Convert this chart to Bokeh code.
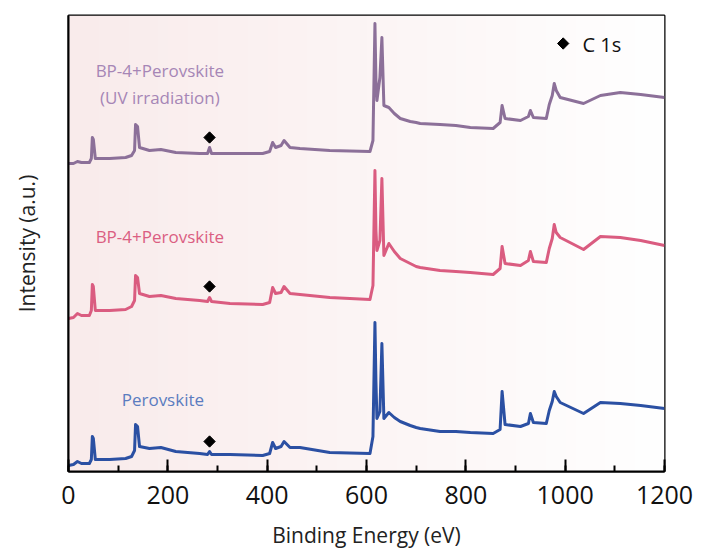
import numpy as np
from bokeh.plotting import figure
from bokeh.models import SingleIntervalTicker, FixedTicker, Label, Range1d
from bokeh.embed import file_html
from bokeh.resources import INLINE

# Binding energy (eV) sample positions shared by all three spectra
energy = [0, 10, 18, 26, 42, 46, 48, 50, 54, 83, 115, 127, 133, 135, 139, 143,
          163, 186, 216, 264, 280, 284, 288, 325, 391, 405, 411, 417, 428, 434,
          446, 466, 526, 607, 613, 617, 619, 621, 627, 631, 635, 645, 656, 668, 688,
          700, 708, 748, 780, 809, 855, 869, 873, 879, 910, 926, 930, 936, 962, 968, 974,
          978, 982, 990, 1037, 1071, 1111, 1152, 1200]

perovskite = [6, 7, 10, 8, 8, 12, 35, 33, 12, 12, 13, 15, 21, 47, 45, 25,
              23, 24, 20, 18, 17, 20, 17, 17, 16, 18, 29, 23, 25, 30,
              24, 24, 19, 18, 35, 149, 90, 53, 60, 128, 53, 59, 54, 50, 46,
              44, 43, 40, 40, 39, 38, 42, 80, 47, 45, 48, 58, 49, 48, 61, 70,
              80, 75, 69, 58, 69, 68, 66, 63]

bp4_perovskite = [153, 154, 158, 156, 156, 161, 187, 185, 161, 161, 162, 165, 171, 196, 194, 178,
                  175, 176, 173, 171, 170, 174, 170, 168, 167, 169, 184, 178, 179, 185,
                  178, 177, 174, 172, 186, 301, 241, 221, 231, 293, 216, 228, 220, 213, 208,
                  205, 204, 201, 200, 199, 197, 203, 225, 208, 206, 211, 220, 210, 209, 223, 233,
                  247, 239, 234, 222, 235, 234, 231, 226]

bp4_uv = [308, 308, 310, 309, 309, 313, 334, 332, 313, 313, 314, 316, 321, 347, 345, 324,
          321, 322, 319, 318, 318, 324, 318, 318, 318, 320, 329, 324, 326, 331,
          324, 323, 321, 320, 331, 448, 391, 371, 394, 434, 366, 364, 358, 353, 350,
          349, 348, 347, 346, 344, 343, 349, 366, 353, 351, 355, 361, 354, 353, 367, 376,
          388, 381, 374, 368, 376, 379, 377, 374]

# C 1s marker positions
c1s_energy = [284, 284, 284]
c1s_intensity = [30, 185, 334]

x_ticks_interval = 200

p = figure(width=702, height=554, output_backend="svg", toolbar_location=None,
           x_range=Range1d(0, 1200), y_range=Range1d(0, 456),
           min_border_left=68, min_border_right=38, min_border_top=15, min_border_bottom=83)
p.background_fill_color = "white"
p.border_fill_color = "white"
p.grid.visible = False
p.outline_line_color = "black"
p.outline_line_width = 2

# pale pink gradient background
n = 300
t = np.linspace(0, 1, n)
r = (249 + (255 - 249) * t).astype(np.uint32)
g = (235 + (255 - 235) * t).astype(np.uint32)
b = (235 + (255 - 235) * t).astype(np.uint32)
a = np.full(n, 255, dtype=np.uint32)
img = (a << 24) | (b << 16) | (g << 8) | r
img = img.reshape(1, n)
p.image_rgba(image=[img], x=0, y=0, dw=1200, dh=456)

lw = 3
p.line(energy, perovskite, line_color="#2B50A3", line_width=lw, line_join="round")
p.line(energy, bp4_perovskite, line_color="#DA5C80", line_width=lw, line_join="round")
p.line(energy, bp4_uv, line_color="#8C7099", line_width=lw, line_join="round")

p.scatter(c1s_energy, c1s_intensity, marker="square", angle=np.pi / 4, size=8, color="black")

p.add_layout(Label(x=184, y=401, text="BP-4+Perovskite", text_font="Open Sans",
                   text_font_size="17px", text_color="#A686B6",
                   text_align="center", text_baseline="middle"))
p.add_layout(Label(x=184, y=374, text="(UV irradiation)", text_font="Open Sans",
                   text_font_size="17px", text_color="#A686B6",
                   text_align="center", text_baseline="middle"))
p.add_layout(Label(x=184, y=235, text="BP-4+Perovskite", text_font="Open Sans",
                   text_font_size="17px", text_color="#DB5E82",
                   text_align="center", text_baseline="middle"))
p.add_layout(Label(x=190, y=72, text="Perovskite", text_font="Open Sans",
                   text_font_size="17px", text_color="#5B7CC0",
                   text_align="center", text_baseline="middle"))

# legend
p.scatter([996], [428], marker="square", angle=np.pi / 4, size=8, color="black")
p.add_layout(Label(x=1035, y=427, text="C 1s", text_font="Open Sans",
                   text_font_size="20px", text_color="#111111",
                   text_align="left", text_baseline="middle"))

xa = p.xaxis[0]
xa.ticker = SingleIntervalTicker(interval=x_ticks_interval, num_minor_ticks=2)
xa.axis_label = "Binding Energy (eV)"
xa.axis_label_text_font = "Open Sans"
xa.axis_label_text_font_size = "21px"
xa.axis_label_text_font_style = "normal"
xa.axis_label_text_color = "#222222"
xa.axis_label_standoff = 14
xa.major_label_text_font = "Open Sans"
xa.major_label_text_font_size = "25px"
xa.major_label_text_color = "#111111"
xa.major_label_standoff = 14
xa.axis_line_color = "black"
xa.axis_line_width = 2
xa.major_tick_in = 12
xa.major_tick_out = 0
xa.minor_tick_in = 6
xa.minor_tick_out = 0
xa.major_tick_line_width = 2
xa.minor_tick_line_width = 2
xa.major_tick_line_color = "black"
xa.minor_tick_line_color = "black"

ya = p.yaxis[0]
ya.ticker = FixedTicker(ticks=[])
ya.axis_label = "Intensity (a.u.)"
ya.axis_label_text_font = "Open Sans"
ya.axis_label_text_font_size = "21px"
ya.axis_label_text_font_style = "normal"
ya.axis_label_text_color = "#222222"
ya.axis_label_standoff = 28
ya.axis_line_color = "black"
ya.axis_line_width = 2
ya.major_tick_line_color = None
ya.minor_tick_line_color = None

open("out.html", "w").write(file_html(p, INLINE))
